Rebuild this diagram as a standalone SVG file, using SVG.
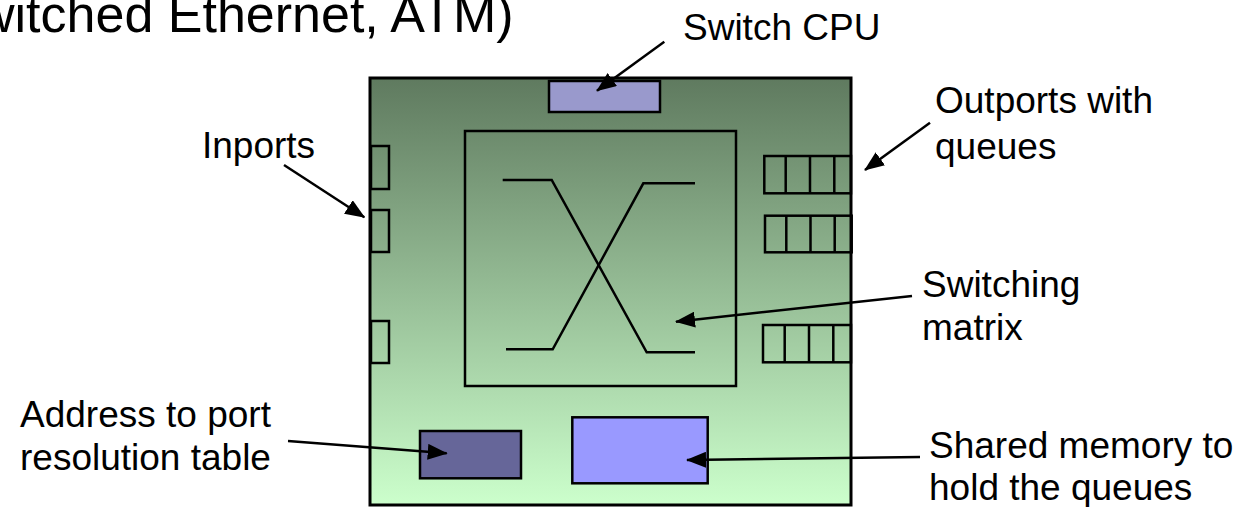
<svg xmlns="http://www.w3.org/2000/svg" width="1245" height="507" viewBox="0 0 1245 507">
<defs>
<linearGradient id="board" x1="0" y1="0" x2="0" y2="1">
<stop offset="0" stop-color="#5f7a5f"/>
<stop offset="1" stop-color="#ccffcc"/>
</linearGradient>
<marker id="ah" markerUnits="userSpaceOnUse" markerWidth="20" markerHeight="16" viewBox="0 0 20 16" refX="19" refY="8" orient="auto">
<path d="M0,0 L20,8 L0,16 z" fill="#000"/>
</marker>
<style>
.lbl{font-family:"Liberation Sans",Arial,sans-serif;font-size:37px;fill:#000}
.box{stroke:#000;stroke-width:2.5;fill:none}
.q{stroke:#000;stroke-width:2.5;fill:none}
.ln{stroke:#000;stroke-width:2.5;fill:none}
.arr{stroke:#000;stroke-width:2.5;fill:none;marker-end:url(#ah)}
</style>
</defs>
<rect width="1245" height="507" fill="#fff"/>
<text class="lbl" x="-23" y="32" style="font-size:52px">witched Ethernet, ATM)</text>
<g id="board-node">
<rect x="370" y="78" width="481" height="427" fill="url(#board)" stroke="#000" stroke-width="3"/>
</g>
<g id="switch-cpu">
<rect x="549" y="81" width="111" height="31" fill="#9999cc" stroke="#000" stroke-width="2.5"/>
</g>
<g id="switching-matrix">
<rect class="box" x="465" y="131" width="271" height="255"/>
<path class="ln" d="M502.7,180 H551.7 L646.7,352.3 H695"/>
<path class="ln" d="M695,183.3 H643.3 L552.7,349.3 H506"/>
</g>
<g id="inports">
<rect class="q" x="371" y="146" width="18" height="43"/>
<rect class="q" x="371" y="210" width="18" height="42"/>
<rect class="q" x="371" y="321" width="18" height="42"/>
</g>
<g id="outports">
<rect class="q" x="764.3" y="156" width="86.7" height="37.3"/>
<path class="q" d="M785.7,156 V193.3 M810,156 V193.3 M834.3,156 V193.3"/>
<rect class="q" x="765" y="215.7" width="86.7" height="36.6"/>
<path class="q" d="M786.3,215.7 V252.3 M810.5,215.7 V252.3 M834.7,215.7 V252.3"/>
<rect class="q" x="763" y="325" width="88" height="37.3"/>
<path class="q" d="M784.7,325 V362.3 M809,325 V362.3 M833.3,325 V362.3"/>
</g>
<g id="address-table">
<rect x="420" y="431" width="101" height="47.3" fill="#666699" stroke="#000" stroke-width="2.5"/>
</g>
<g id="shared-memory">
<rect x="572.3" y="417.3" width="135.4" height="66" fill="#9999ff" stroke="#000" stroke-width="2.5"/>
</g>
<g id="connectors">
<line class="arr" x1="664.3" y1="41.7" x2="597" y2="90.7"/>
<line class="arr" x1="284" y1="165" x2="364.3" y2="217.3"/>
<line class="arr" x1="930" y1="122.7" x2="865" y2="170"/>
<line class="arr" x1="912" y1="296" x2="676" y2="321.7"/>
<line class="arr" x1="288" y1="441" x2="446.7" y2="453.3"/>
<line class="arr" x1="920" y1="457" x2="687" y2="460"/>
</g>
<g id="labels">
<text class="lbl" x="683" y="40">Switch CPU</text>
<text class="lbl" x="202" y="158">Inports</text>
<text class="lbl" x="935" y="113">Outports with</text>
<text class="lbl" x="935" y="159">queues</text>
<text class="lbl" x="922" y="297">Switching</text>
<text class="lbl" x="922" y="340">matrix</text>
<text class="lbl" x="20" y="427">Address to port</text>
<text class="lbl" x="20" y="470">resolution table</text>
<text class="lbl" x="929" y="458">Shared memory to</text>
<text class="lbl" x="929" y="500">hold the queues</text>
</g>
</svg>
